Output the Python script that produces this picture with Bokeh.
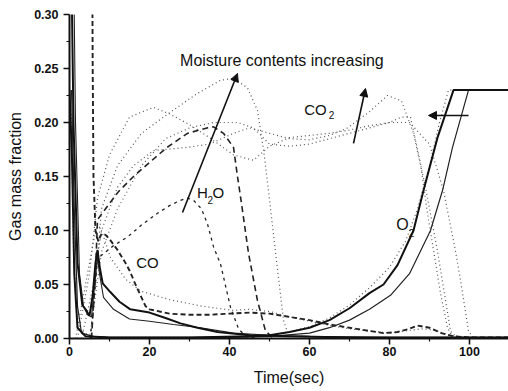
from bokeh.plotting import figure
from bokeh.models import Label, Arrow, NormalHead, FixedTicker, Range1d, PrintfTickFormatter
from bokeh.embed import file_html
from bokeh.resources import INLINE

# ---------------- data ----------------
# solid thick case
a_co_t = [0.2, 1.0, 2.0, 3.2, 4.2, 5.0, 5.8, 6.5, 7.0, 7.6, 8.3, 10.2, 12.5, 15.2, 20, 24, 27.75, 32, 37, 45, 55, 70, 90, 110]
a_co_v = [0.42, 0.2, 0.07, 0.031, 0.026, 0.021, 0.04, 0.07, 0.082, 0.065, 0.051, 0.043, 0.034, 0.027, 0.024, 0.019, 0.014, 0.010, 0.006, 0.003, 0.002, 0.001, 0.001, 0.001]
a_o2_t = [0, 0.6, 1.2, 2.0, 4, 10, 30, 45, 50, 55, 60, 65, 70, 75, 78.5, 82, 86, 88.5, 92, 96, 110]
a_o2_v = [0.23, 0.17, 0.06, 0.01, 0.002, 0.001, 0.001, 0.002, 0.003, 0.006, 0.010, 0.017, 0.028, 0.042, 0.050, 0.068, 0.100, 0.137, 0.186, 0.230, 0.230]
# solid thin case
b_co_t = [0.8, 1.5, 2.5, 3.5, 4.5, 5.5, 6.3, 7.0, 7.5, 8.5, 11, 15, 20, 26, 32.75, 41, 50, 60, 80, 110]
b_co_v = [0.42, 0.2, 0.06, 0.03, 0.022, 0.02, 0.05, 0.075, 0.06, 0.038, 0.027, 0.018, 0.016, 0.013, 0.010, 0.005, 0.003, 0.002, 0.001, 0.001]
b_o2_t = [0.5, 1.2, 2, 3, 6, 10, 40, 50, 60, 65, 70, 75, 80.25, 85, 90.25, 93.25, 95.75, 99.75, 110]
b_o2_v = [0.23, 0.12, 0.03, 0.005, 0.002, 0.001, 0.001, 0.002, 0.005, 0.010, 0.017, 0.027, 0.040, 0.060, 0.100, 0.137, 0.177, 0.230, 0.230]
# dashed case
c_co_t = [5.6, 5.8, 6.0, 6.5, 7.2, 8.0, 9, 10, 12, 14, 15, 16.5, 17.75, 19, 20, 25, 30, 35, 40, 45, 50, 55, 60, 65, 70, 75, 78.5, 82, 85, 87, 90, 93, 96, 100, 110]
c_co_v = [0.42, 0.25, 0.15, 0.10, 0.09, 0.097, 0.096, 0.092, 0.082, 0.070, 0.063, 0.050, 0.040, 0.030, 0.027, 0.023, 0.022, 0.022, 0.023, 0.024, 0.023, 0.020, 0.017, 0.013, 0.010, 0.007, 0.005, 0.006, 0.009, 0.012, 0.010, 0.005, 0.002, 0.001, 0.001]
c_h2o_t = [5.2, 6, 7, 9, 11, 14.5, 18, 22, 25, 27.75, 29.5, 31, 33, 34.5, 36, 37.75, 40.25, 42.25, 44, 47]
c_h2o_v = [0.0, 0.03, 0.074, 0.080, 0.086, 0.094, 0.105, 0.116, 0.123, 0.128, 0.130, 0.128, 0.120, 0.106, 0.085, 0.069, 0.029, 0.009, 0.002, 0.0]
d_h2o_t = [5.5, 6.5, 7, 10, 12.25, 16, 20, 24.4, 29.5, 34.4, 36, 38.5, 41, 42, 43, 44.75, 47, 49, 51]
d_h2o_v = [0.0, 0.06, 0.11, 0.125, 0.136, 0.150, 0.163, 0.177, 0.190, 0.195, 0.196, 0.190, 0.177, 0.150, 0.125, 0.079, 0.035, 0.007, 0.0]
# dotted cases
e_h2o_t = [6.5, 8, 12, 18, 25, 32, 37.75, 41, 44.5, 47, 48.5, 49.75, 51.5, 53.5, 55]
e_h2o_v = [0.05, 0.12, 0.16, 0.19, 0.209, 0.227, 0.239, 0.241, 0.232, 0.211, 0.175, 0.137, 0.080, 0.017, 0.0]
e_co2a_t = [2, 5, 7, 10, 15, 21, 25, 30, 35, 41, 46, 50, 55, 60, 65, 70, 75, 80, 83, 85.25, 87.75, 89.5, 92.75, 94.5, 96]
e_co2a_v = [0.0, 0.06, 0.13, 0.17, 0.205, 0.214, 0.208, 0.198, 0.186, 0.170, 0.165, 0.178, 0.186, 0.188, 0.190, 0.193, 0.197, 0.200, 0.205, 0.205, 0.162, 0.116, 0.042, 0.010, 0.0]
e_co2b_t = [3, 6, 8, 12, 16, 21, 29.5, 35, 41, 45, 50, 55, 60, 65, 69.5, 75, 79.5, 83, 86, 89, 92, 95.25, 97]
e_co2b_v = [0.0, 0.05, 0.10, 0.14, 0.16, 0.174, 0.177, 0.180, 0.190, 0.195, 0.190, 0.185, 0.184, 0.188, 0.195, 0.210, 0.225, 0.220, 0.190, 0.140, 0.081, 0.007, 0.0]
e_co2c_t = [5, 8, 12, 18, 24, 30, 36, 42, 46, 50, 55, 60, 65, 70, 75, 80, 85, 90, 93.5, 96.5, 97.75, 99.75, 101]
e_co2c_v = [0.0, 0.08, 0.12, 0.16, 0.185, 0.195, 0.200, 0.200, 0.195, 0.180, 0.178, 0.180, 0.185, 0.190, 0.195, 0.200, 0.200, 0.180, 0.137, 0.081, 0.054, 0.007, 0.0]
e_co_t = [1.5, 4, 6, 7, 8, 10.25, 14, 17.75, 25, 33, 41, 45, 50, 55, 60, 65, 70, 80, 88, 91, 95, 100, 110]
e_co_v = [0.0, 0.05, 0.09, 0.106, 0.10, 0.075, 0.055, 0.044, 0.036, 0.030, 0.026, 0.027, 0.025, 0.020, 0.016, 0.012, 0.009, 0.005, 0.009, 0.008, 0.003, 0.001, 0.0]
e_o2_t = [0, 0.5, 1, 2, 5, 10, 40, 50, 55, 60, 65, 70, 75, 80, 84, 87, 90, 92.5, 94.75, 110]
e_o2_v = [0.23, 0.20, 0.08, 0.01, 0.002, 0.001, 0.001, 0.003, 0.006, 0.011, 0.019, 0.031, 0.047, 0.066, 0.090, 0.120, 0.160, 0.200, 0.230, 0.230]

# axis extents and ticks
x_max = 109.75
y_max = 0.30
x_ticks = [0, 20, 40, 60, 80, 100]
x_minor = [10, 30, 50, 70, 90]
y_ticks = [0.00, 0.05, 0.10, 0.15, 0.20, 0.25, 0.30]
y_minor = [0.025, 0.075, 0.125, 0.175, 0.225, 0.275]

# annotations: (text, t, v, size)
labels = [
    ("Moisture contents increasing", 53.1, 0.2574, "16px"),
    ("H", 33.25, 0.1352, "15px"), ("2", 35.2, 0.1282, "10px"), ("O", 37.2, 0.1352, "15px"),
    ("CO", 19.5, 0.0704, "15px"),
    ("CO", 61.5, 0.2120, "15px"), ("2", 65.5, 0.2070, "10px"),
    ("O", 83.25, 0.1056, "16px"), ("2", 85.5, 0.0981, "10px"),
]
# arrows: (t_start, v_start, t_end, v_end)
arrows = [
    (28.25, 0.1167, 42.0, 0.2454),
    (71.0, 0.1806, 74.0, 0.2315),
    (99.75, 0.2065, 89.75, 0.2065),
]

# ---------------- figure ----------------
p = figure(width=508, height=391, output_backend="svg", toolbar_location=None,
           x_range=Range1d(0, x_max), y_range=Range1d(0, y_max),
           min_border_left=69, min_border_right=0, min_border_top=14, min_border_bottom=53)
p.outline_line_color = None
p.xgrid.visible = False
p.ygrid.visible = False
p.background_fill_color = "white"

DOT = "#555555"
dotted = dict(line_color=DOT, line_width=1.2, line_dash="1 3")
for t, v in [(e_h2o_t, e_h2o_v), (e_co2a_t, e_co2a_v), (e_co2b_t, e_co2b_v),
             (e_co2c_t, e_co2c_v), (e_co_t, e_co_v), (e_o2_t, e_o2_v)]:
    p.line(t, v, **dotted)

p.line(c_co_t, c_co_v, line_color="#222222", line_width=1.9, line_dash="5 3")
p.line(c_h2o_t, c_h2o_v, line_color="#222222", line_width=1.3, line_dash="3 4")
p.line(d_h2o_t, d_h2o_v, line_color="#222222", line_width=1.6, line_dash="6 4")
p.line(b_o2_t, b_o2_v, line_color="#222222", line_width=1.2)
p.line(b_co_t, b_co_v, line_color="#222222", line_width=1.1)
p.line(a_co_t, a_co_v, line_color="#111111", line_width=2.0)
p.line(a_o2_t, a_o2_v, line_color="#111111", line_width=2.0)

for txt, t, v, s in labels:
    p.add_layout(Label(x=t, y=v, text=txt, text_font="Liberation Sans", text_font_size=s,
                       text_align="center", text_baseline="middle", text_color="#111111"))
for x0, y0, x1, y1 in arrows:
    p.add_layout(Arrow(end=NormalHead(size=8, fill_color="#111111", line_color="#111111"),
                       x_start=x0, y_start=y0, x_end=x1, y_end=y1,
                       line_color="#111111", line_width=1.6))

for ax in (p.xaxis[0], p.yaxis[0]):
    ax.axis_line_width = 2
    ax.axis_line_color = "#111111"
    ax.major_tick_line_width = 1.6
    ax.minor_tick_line_width = 1.2
    ax.major_tick_line_color = "#111111"
    ax.minor_tick_line_color = "#111111"
    ax.major_tick_out = 6
    ax.major_tick_in = 0
    ax.minor_tick_out = 3
    ax.minor_tick_in = 0
    ax.major_label_text_font = "Liberation Sans"
    ax.major_label_text_font_style = "bold"
    ax.major_label_text_font_size = "12.5px"
    ax.major_label_text_color = "#111111"
    ax.axis_label_text_font = "Liberation Sans"
    ax.axis_label_text_font_style = "normal"
    ax.axis_label_text_font_size = "16px"
    ax.axis_label_text_color = "#111111"

p.xaxis.ticker = FixedTicker(ticks=x_ticks, minor_ticks=x_minor)
p.yaxis.ticker = FixedTicker(ticks=y_ticks, minor_ticks=y_minor)
p.yaxis.formatter = PrintfTickFormatter(format="%.2f")
p.xaxis.major_label_standoff = 2
p.yaxis.major_label_standoff = 5
p.xaxis.axis_label = "Time(sec)"
p.yaxis.axis_label = "Gas mass fraction"
p.xaxis.axis_label_standoff = 10
p.yaxis.axis_label_standoff = 7

open("out.html", "w").write(file_html(p, INLINE))
